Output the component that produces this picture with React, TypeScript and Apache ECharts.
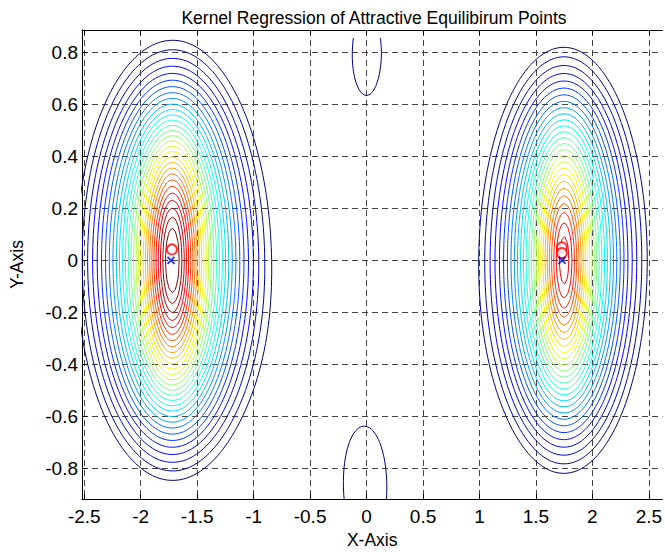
import React, { useEffect, useRef } from 'react';
import * as echarts from 'echarts';

// ---- axis ticks ----
const xTicks = [-2.5, -2, -1.5, -1, -0.5, 0, 0.5, 1, 1.5, 2, 2.5];
const yTicks = [-0.8, -0.6, -0.4, -0.2, 0, 0.2, 0.4, 0.6, 0.8];

// ---- regression model: two attractor bumps (elliptic, aspect varying with radius) ----
const bumpCx = [-1.72, 1.75];
const bumpCy = [0.0, 0.0];
const bumpAmp = [1.0, 0.91];
const bumpScale = [1.0, 0.919];
const bumpK = [0.186, 0.186];
const bumpC = [0.1, 0.1];
const bumpAspectInf = [0.87, 0.94];
const bumpAspectAmp = [1.4, 1.4];
const bumpAspectLen = [0.35, 0.35];

// ---- regression model: Gaussian kernels above / below the saddle ----
const kernelCx = [0.01, 0];
const kernelCy = [0.85, -0.95];
const kernelAmp = [0.206, 0.2165];
const kernelSx = [0.33, 0.419];
const kernelSy = [0.42, 0.537];

// ---- evaluation grid of the regression (start, step, count) ----
const sampleX = [-2.62, 0.025, 213];
const sampleY = [-1.0, 0.025, 75];
const sampleYTop = 0.855;

// ---- contour levels ----
const levels = [
  0.245, 0.27, 0.295, 0.32, 0.345, 0.37, 0.395, 0.42, 0.445, 0.47, 0.495, 0.52, 0.545, 0.57, 0.595,
  0.62, 0.645, 0.67, 0.695, 0.72, 0.745, 0.77, 0.795, 0.82, 0.845, 0.87, 0.895, 0.92, 0.945, 0.97,
];

// ---- markers ----
const equilibriumPts = [
  [-1.732, 0],
  [1.732, 0],
];
const estimatedPts = [
  [-1.724, 0.042],
  [1.73, 0.05],
  [1.73, 0.028],
];

const FONT = '"Liberation Sans", Arial, Helvetica, sans-serif';

function bumpRadius(b: number, dx: number, dy: number): number {
  if (dx === 0 && dy === 0) return 0;
  const aspect = (r: number) => bumpAspectInf[b] + bumpAspectAmp[b] * Math.exp(-r / bumpAspectLen[b]);
  const g = (r: number) => {
    const a = dx / r;
    const c = dy / (r * aspect(r));
    return a * a + c * c - 1;
  };
  let lo = 1e-6;
  let hi = 20;
  for (let it = 0; it < 50; it++) {
    const mid = 0.5 * (lo + hi);
    if (g(mid) > 0) lo = mid;
    else hi = mid;
  }
  return 0.5 * (lo + hi);
}

function field(x: number, y: number): number {
  let s = 0;
  for (let b = 0; b < bumpCx.length; b++) {
    const r = bumpRadius(b, x - bumpCx[b], y - bumpCy[b]) / bumpScale[b];
    const q = r / bumpC[b];
    s += bumpAmp[b] * Math.exp(-bumpK[b] * (Math.sqrt(1 + q * q) - 1));
  }
  for (let k = 0; k < kernelCx.length; k++) {
    const dx = x - kernelCx[k];
    const dy = y - kernelCy[k];
    s +=
      kernelAmp[k] *
      Math.exp(-(dx * dx) / (2 * kernelSx[k] * kernelSx[k]) - (dy * dy) / (2 * kernelSy[k] * kernelSy[k]));
  }
  return s;
}

type Pt = [number, number];

function contour(xs: number[], ys: number[], Z: number[][], L: number): Pt[][] {
  const pos = new Map<string, Pt>();
  const adj = new Map<string, string[]>();
  const add = (a: string, b: string) => {
    if (!adj.has(a)) adj.set(a, []);
    if (!adj.has(b)) adj.set(b, []);
    adj.get(a)!.push(b);
    adj.get(b)!.push(a);
  };
  for (let j = 0; j < ys.length - 1; j++) {
    for (let i = 0; i < xs.length - 1; i++) {
      const v = [Z[j][i], Z[j][i + 1], Z[j + 1][i + 1], Z[j + 1][i]];
      const c: Pt[] = [
        [xs[i], ys[j]],
        [xs[i + 1], ys[j]],
        [xs[i + 1], ys[j + 1]],
        [xs[i], ys[j + 1]],
      ];
      const keys = [`h${i}_${j}`, `v${i + 1}_${j}`, `h${i}_${j + 1}`, `v${i}_${j}`];
      const cr: number[] = [];
      for (let e = 0; e < 4; e++) {
        const a = e;
        const b = (e + 1) % 4;
        if (v[a] >= L !== v[b] >= L) {
          if (!pos.has(keys[e])) {
            const t = (L - v[a]) / (v[b] - v[a]);
            pos.set(keys[e], [c[a][0] + t * (c[b][0] - c[a][0]), c[a][1] + t * (c[b][1] - c[a][1])]);
          }
          cr.push(e);
        }
      }
      if (cr.length === 2) add(keys[cr[0]], keys[cr[1]]);
      else if (cr.length === 4) {
        const center = (v[0] + v[1] + v[2] + v[3]) / 4;
        if (center >= L === v[0] >= L) {
          add(keys[0], keys[1]);
          add(keys[2], keys[3]);
        } else {
          add(keys[0], keys[3]);
          add(keys[1], keys[2]);
        }
      }
    }
  }
  const lines: Pt[][] = [];
  const walk = (start: string) => {
    const line: Pt[] = [pos.get(start)!];
    let cur = start;
    while (adj.get(cur)!.length > 0) {
      const nxt = adj.get(cur)!.pop()!;
      const back = adj.get(nxt)!;
      const idx = back.indexOf(cur);
      if (idx >= 0) back.splice(idx, 1);
      line.push(pos.get(nxt)!);
      cur = nxt;
    }
    if (line.length > 1) lines.push(line);
  };
  adj.forEach((nb, k) => {
    if (nb.length === 1) walk(k);
  });
  adj.forEach((nb, k) => {
    if (nb.length > 0) walk(k);
  });
  return lines;
}

function jet(t: number): string {
  const cl = (x: number) => Math.max(0, Math.min(1, x));
  const r = cl(1.5 - Math.abs(4 * t - 3));
  const g = cl(1.5 - Math.abs(4 * t - 2));
  const b = cl(1.5 - Math.abs(4 * t - 1));
  return `rgb(${Math.round(r * 255)},${Math.round(g * 255)},${Math.round(b * 255)})`;
}

export default function App() {
  const ref = useRef<HTMLDivElement>(null);
  useEffect(() => {
    if (!ref.current) return;
    const chart = echarts.init(ref.current, undefined, { renderer: 'svg' });

    const xs: number[] = [];
    for (let i = 0; i < sampleX[2]; i++) xs.push(+(sampleX[0] + i * sampleX[1]).toFixed(4));
    const ys: number[] = [];
    for (let j = 0; j < sampleY[2]; j++) ys.push(+(sampleY[0] + j * sampleY[1]).toFixed(4));
    ys.push(sampleYTop);

    const Z = ys.map((y) => xs.map((x) => field(x, y)));
    const series: any[] = [];
    levels.forEach((L, li) => {
      const color = jet(li / (levels.length - 1));
      contour(xs, ys, Z, L).forEach((line) => {
        series.push({
          type: 'line',
          data: line,
          showSymbol: false,
          silent: true,
          clip: true,
          lineStyle: { color, width: 1 },
          z: 2,
        });
      });
    });
    series.push({
      type: 'scatter',
      data: estimatedPts,
      symbol: 'emptyCircle',
      symbolSize: 10,
      itemStyle: { color: '#ff0000', borderColor: '#ff0000', borderWidth: 1 },
      silent: true,
      z: 5,
    });
    series.push({
      type: 'scatter',
      data: equilibriumPts,
      symbol: 'path://M0,0L10,10M10,0L0,10',
      symbolSize: 7,
      itemStyle: { color: 'transparent', borderColor: '#0000ff', borderWidth: 2 },
      silent: true,
      z: 6,
    });

    const splitLine = { show: true, lineStyle: { color: '#444', width: 1, type: [6, 4] } };
    chart.setOption({
      animation: false,
      backgroundColor: '#fff',
      grid: { left: 79, top: 30, width: 587.2, height: 474, containLabel: false },
      graphic: [
        {
          type: 'text',
          x: 374,
          y: 18,
          style: {
            text: 'Kernel Regression of Attractive Equilibirum Points',
            fill: '#000',
            font: `17.5px ${FONT}`,
            textAlign: 'center',
            textVerticalAlign: 'middle',
            align: 'center',
            verticalAlign: 'middle',
          },
        },
      ],
      xAxis: [
        {
          type: 'value',
          min: -2.52,
          max: 2.62,
          position: 'bottom',
          axisLine: { show: true, onZero: false, lineStyle: { color: '#000', width: 1 } },
          axisTick: { show: true, inside: true, length: 5, customValues: xTicks, lineStyle: { color: '#000' } },
          axisLabel: { customValues: xTicks, color: '#000', fontSize: 19, margin: 8, fontFamily: FONT },
          splitLine,
          name: 'X-Axis',
          nameLocation: 'middle',
          nameGap: 29,
          nameTextStyle: { color: '#000', fontSize: 17.5, fontFamily: FONT },
        },
        {
          type: 'value',
          min: -2.52,
          max: 2.62,
          position: 'top',
          axisLine: { show: true, onZero: false, lineStyle: { color: '#000', width: 1 } },
          axisTick: { show: true, inside: true, length: 5, customValues: xTicks, lineStyle: { color: '#000' } },
          axisLabel: { show: false },
          splitLine: { show: false },
        },
      ],
      yAxis: [
        {
          type: 'value',
          min: -0.918,
          max: 0.8856,
          position: 'left',
          axisLine: { show: true, onZero: false, lineStyle: { color: '#000', width: 1 } },
          axisTick: { show: true, inside: true, length: 5, customValues: yTicks, lineStyle: { color: '#000' } },
          axisLabel: { customValues: yTicks, color: '#000', fontSize: 19, margin: 4, fontFamily: FONT },
          splitLine,
          name: 'Y-Axis',
          nameLocation: 'middle',
          nameGap: 56,
          nameRotate: 90,
          nameTextStyle: { color: '#000', fontSize: 17.5, fontFamily: FONT },
        },
      ],
      series,
    });
    return () => chart.dispose();
  }, []);
  return (
    <div
      ref={ref}
      style={{ position: 'absolute', left: 0, top: 0, width: 665, height: 554, background: '#fff' }}
    />
  );
}
